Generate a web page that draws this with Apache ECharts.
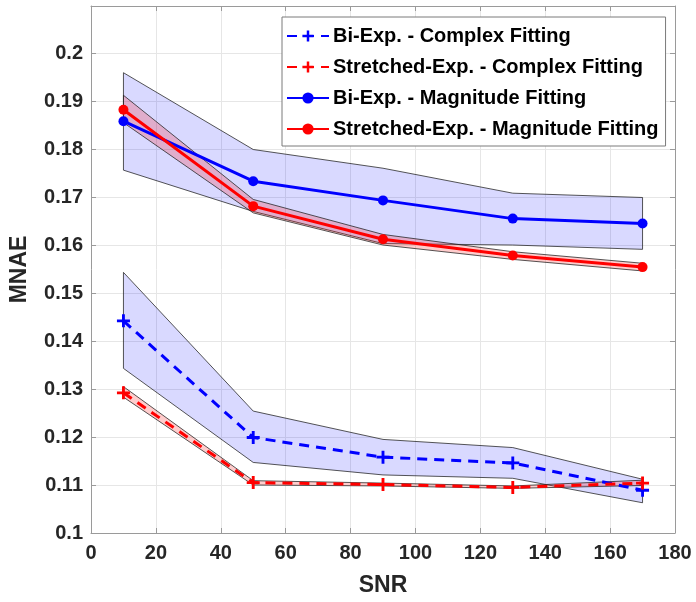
<!DOCTYPE html>
<html>
<head>
<meta charset="utf-8">
<script src="https://cdn.jsdelivr.net/npm/echarts@6/dist/echarts.min.js"></script>
<style>
html,body{margin:0;padding:0;background:#fff;}
#chart{width:696px;height:602px;}
</style>
</head>
<body>
<div id="chart"></div>
<script>
// ---- data ----
var snr = [10, 50, 90, 130, 170];
var xTicks = [0, 20, 40, 60, 80, 100, 120, 140, 160, 180];
var yTicks = [0.1, 0.11, 0.12, 0.13, 0.14, 0.15, 0.16, 0.17, 0.18, 0.19, 0.2];

var seriesNames = [
  'Bi-Exp. - Complex Fitting',
  'Stretched-Exp. - Complex Fitting',
  'Bi-Exp. - Magnitude Fitting',
  'Stretched-Exp. - Magnitude Fitting'
];

var biExpComplex   = [0.1442, 0.1199, 0.1158, 0.1146, 0.1089];
var biExpComplexLo = [0.1343, 0.1147, 0.1121, 0.1114, 0.1063];
var biExpComplexHi = [0.1543, 0.1254, 0.1195, 0.1178, 0.1112];

var strExpComplex   = [0.1292, 0.1105, 0.1101, 0.1095, 0.1104];
var strExpComplexLo = [0.1283, 0.1100, 0.1098, 0.1093, 0.1099];
var strExpComplexHi = [0.1305, 0.1109, 0.1104, 0.1098, 0.1110];

var biExpMag   = [0.1858, 0.1733, 0.1693, 0.1655, 0.1645];
var biExpMagLo = [0.1756, 0.1670, 0.1603, 0.1600, 0.1591];
var biExpMagHi = [0.1959, 0.1799, 0.1760, 0.1708, 0.1699];

var strExpMag   = [0.1882, 0.1681, 0.1612, 0.1578, 0.1554];
var strExpMagLo = [0.1855, 0.1667, 0.1600, 0.1570, 0.1546];
var strExpMagHi = [0.1912, 0.1695, 0.1622, 0.1586, 0.1562];

// ---- chart ----
var FONT = '"Liberation Sans", Arial, sans-serif';
var TXT = '#262626';
var AXC = '#9a9a9a';
var PLUS = 'path://M-1,-0.22 L-0.22,-0.22 L-0.22,-1 L0.22,-1 L0.22,-0.22 L1,-0.22 L1,0.22 L0.22,0.22 L0.22,1 L-0.22,1 L-0.22,0.22 L-1,0.22 Z';

function band(lo, hi, fill) {
  return {
    type: 'custom',
    silent: true,
    z: 1,
    xAxisIndex: 0, yAxisIndex: 0,
    data: snr.map(function (x, i) { return [x, lo[i], hi[i]]; }),
    encode: { x: 0, y: [1, 2] },
    renderItem: function (params, api) {
      if (params.dataIndex !== 0) return null;
      var pts = [];
      for (var i = 0; i < snr.length; i++) pts.push(api.coord([snr[i], hi[i]]));
      for (var j = snr.length - 1; j >= 0; j--) pts.push(api.coord([snr[j], lo[j]]));
      return {
        type: 'polygon',
        shape: { points: pts },
        style: { fill: fill, stroke: 'rgba(30,30,30,0.75)', lineWidth: 1 }
      };
    }
  };
}

function line(name, vals, color, dashed) {
  return {
    type: 'line',
    name: name,
    z: 3,
    data: snr.map(function (x, i) { return [x, vals[i]]; }),
    symbol: dashed ? PLUS : 'circle',
    symbolSize: dashed ? 13 : 10,
    showAllSymbol: true,
    itemStyle: { color: color, borderWidth: 0 },
    lineStyle: { color: color, width: 3, type: dashed ? [10, 7] : 'solid' },
    animation: false
  };
}

var blueFill = 'rgba(0,0,255,0.15)';
var redFill = 'rgba(255,0,0,0.2)';

var chart = echarts.init(document.getElementById('chart'), null, { renderer: 'canvas' });
chart.setOption({
  animation: false,
  backgroundColor: '#ffffff',
  grid: { left: 91, right: 21, top: 6, bottom: 69, containLabel: false },
  legend: {
    data: seriesNames,
    orient: 'vertical',
    left: 282,
    top: 17,
    padding: [9, 7, 7, 4],
    itemGap: 11,
    itemWidth: 42,
    itemHeight: 14,
    backgroundColor: '#ffffff',
    borderColor: '#7a7a7a',
    borderWidth: 1,
    borderRadius: 0,
    textStyle: { fontFamily: FONT, fontWeight: 'bold', fontSize: 20, color: '#000', padding: [0, 0, 0, -1] }
  },
  xAxis: [{
    type: 'value', min: 0, max: 180, interval: 20,
    name: 'SNR', nameLocation: 'middle', nameGap: 41,
    nameTextStyle: { fontFamily: FONT, fontWeight: 'bold', fontSize: 23, color: TXT },
    axisLine: { show: true, lineStyle: { color: AXC, width: 1 } },
    axisTick: { show: true, inside: true, length: 5, lineStyle: { color: AXC } },
    axisLabel: { fontFamily: FONT, fontWeight: 'bold', fontSize: 20, color: TXT, margin: 10,
      formatter: function (v) { return xTicks.indexOf(v) >= 0 ? String(v) : ''; } },
    splitLine: { show: true, lineStyle: { color: '#e6e6e6', width: 1 } }
  }, {
    type: 'value', min: 0, max: 180, interval: 20, position: 'top',
    axisLine: { show: true, onZero: false, lineStyle: { color: AXC, width: 1 } },
    axisTick: { show: true, inside: true, length: 5, lineStyle: { color: AXC } },
    axisLabel: { show: false }, splitLine: { show: false }
  }],
  yAxis: [{
    type: 'value', min: 0.1, max: 0.2098, interval: 0.01,
    name: 'MNAE', nameLocation: 'middle', nameGap: 60, nameRotate: 90,
    nameTextStyle: { fontFamily: FONT, fontWeight: 'bold', fontSize: 23, color: TXT },
    axisLine: { show: true, onZero: false, lineStyle: { color: AXC, width: 1 } },
    axisTick: { show: true, inside: true, length: 5, lineStyle: { color: AXC } },
    axisLabel: { fontFamily: FONT, fontWeight: 'bold', fontSize: 20, color: TXT, margin: 8, showMaxLabel: false,
      formatter: function (v) {
        var r = Math.round(v * 100) / 100;
        return Math.abs(r - v) < 1e-6 ? String(r) : '';
      } },
    splitLine: { show: true, lineStyle: { color: '#e6e6e6', width: 1 } }
  }, {
    type: 'value', min: 0.1, max: 0.2098, interval: 0.01, position: 'right',
    axisLine: { show: true, onZero: false, lineStyle: { color: AXC, width: 1 } },
    axisTick: { show: true, inside: true, length: 5, lineStyle: { color: AXC } },
    axisLabel: { show: false }, splitLine: { show: false }
  }],
  series: [
    band(biExpMagLo, biExpMagHi, blueFill),
    band(strExpMagLo, strExpMagHi, redFill),
    band(biExpComplexLo, biExpComplexHi, blueFill),
    band(strExpComplexLo, strExpComplexHi, redFill),
    line(seriesNames[0], biExpComplex, '#0000ff', true),
    line(seriesNames[1], strExpComplex, '#ff0000', true),
    line(seriesNames[2], biExpMag, '#0000ff', false),
    line(seriesNames[3], strExpMag, '#ff0000', false)
  ]
});
</script>
</body>
</html>
